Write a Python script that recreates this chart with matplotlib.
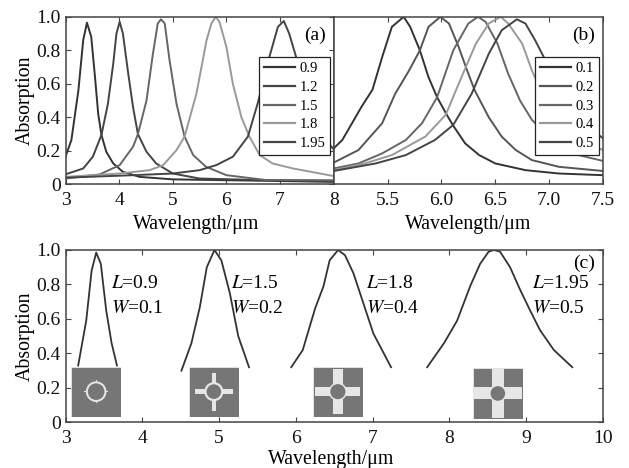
import matplotlib
matplotlib.use("Agg")
import matplotlib.pyplot as plt
from matplotlib.patches import Rectangle, Circle

plt.rcParams['font.family'] = ['Liberation Serif', 'DejaVu Serif']
plt.rcParams['mathtext.fontset'] = 'stix'

W, H = 629, 468
FS = 14
LS = 14.3

# ---------- panel (a)
a_labels = ["0.9", "1.2", "1.5", "1.8", "1.95"]
a_x = [
    [3.0, 3.11, 3.24, 3.33, 3.40, 3.48, 3.55, 3.61, 3.67, 3.76, 3.89, 4.07, 4.38, 5.0, 6.0, 8.0],
    [3.0, 3.33, 3.51, 3.67, 3.79, 3.89, 3.95, 4.01, 4.07, 4.17, 4.26, 4.35, 4.51, 4.69, 5.0, 5.5, 6.5, 8.0],
    [3.0, 3.64, 4.01, 4.26, 4.35, 4.51, 4.63, 4.72, 4.78, 4.85, 4.94, 5.07, 5.22, 5.38, 5.62, 6.0, 6.74, 8.0],
    [3.0, 4.01, 4.57, 4.82, 5.07, 5.22, 5.44, 5.63, 5.72, 5.80, 5.87, 6.0, 6.12, 6.28, 6.43, 6.62, 6.86, 7.24, 8.0],
    [3.0, 4.26, 5.0, 5.5, 5.81, 6.12, 6.4, 6.58, 6.8, 6.96, 7.07, 7.17, 7.29, 7.5, 7.75, 8.0],
]
a_y = [
    [0.165, 0.265, 0.56, 0.86, 0.965, 0.88, 0.64, 0.42, 0.295, 0.195, 0.125, 0.075, 0.045, 0.03, 0.025, 0.015],
    [0.06, 0.095, 0.165, 0.295, 0.48, 0.72, 0.90, 0.97, 0.90, 0.66, 0.46, 0.30, 0.195, 0.125, 0.065, 0.035, 0.027, 0.02],
    [0.035, 0.06, 0.115, 0.225, 0.30, 0.50, 0.78, 0.96, 0.985, 0.96, 0.74, 0.48, 0.285, 0.175, 0.105, 0.055, 0.026, 0.025],
    [0.045, 0.065, 0.085, 0.115, 0.205, 0.285, 0.54, 0.86, 0.96, 1.0, 0.97, 0.82, 0.60, 0.40, 0.285, 0.175, 0.125, 0.095, 0.05],
    [0.04, 0.055, 0.065, 0.085, 0.115, 0.165, 0.285, 0.48, 0.76, 0.94, 0.975, 0.90, 0.77, 0.50, 0.30, 0.21],
]
a_colors = ["#333333", "#444444", "#666666", "#999999", "#444444"]

# ---------- panel (b)
b_labels = ["0.1", "0.2", "0.3", "0.4", "0.5"]
b_x = [
    [5.0, 5.08, 5.17, 5.26, 5.36, 5.45, 5.54, 5.65, 5.71, 5.80, 5.88, 5.96, 6.05, 6.11, 6.22, 6.35, 6.5, 6.78, 7.09, 7.5],
    [5.0, 5.23, 5.45, 5.57, 5.70, 5.80, 5.88, 5.99, 6.07, 6.16, 6.25, 6.31, 6.44, 6.56, 6.69, 6.84, 7.09, 7.5],
    [5.0, 5.23, 5.45, 5.67, 5.82, 5.96, 6.11, 6.25, 6.34, 6.41, 6.52, 6.62, 6.73, 6.84, 7.03, 7.21, 7.5],
    [5.0, 5.29, 5.54, 5.85, 6.04, 6.16, 6.32, 6.44, 6.55, 6.62, 6.75, 6.84, 6.95, 7.09, 7.27, 7.5],
    [5.0, 5.39, 5.67, 5.94, 6.11, 6.28, 6.44, 6.56, 6.70, 6.78, 6.87, 6.95, 7.05, 7.2, 7.35, 7.5],
]
b_y = [
    [0.215, 0.265, 0.365, 0.465, 0.565, 0.76, 0.94, 1.0, 0.94, 0.80, 0.64, 0.52, 0.415, 0.35, 0.245, 0.175, 0.125, 0.085, 0.065, 0.055],
    [0.13, 0.205, 0.365, 0.54, 0.68, 0.80, 0.94, 1.0, 0.96, 0.82, 0.66, 0.56, 0.40, 0.285, 0.205, 0.145, 0.105, 0.08],
    [0.095, 0.125, 0.185, 0.265, 0.365, 0.52, 0.80, 0.96, 1.0, 0.97, 0.84, 0.66, 0.50, 0.385, 0.265, 0.185, 0.14],
    [0.085, 0.125, 0.175, 0.285, 0.415, 0.60, 0.84, 0.96, 1.0, 0.96, 0.84, 0.68, 0.52, 0.365, 0.265, 0.205],
    [0.08, 0.125, 0.175, 0.265, 0.355, 0.54, 0.78, 0.92, 0.985, 0.96, 0.86, 0.76, 0.62, 0.49, 0.35, 0.275],
]
b_colors = ["#333333", "#555555", "#666666", "#999999", "#444444"]

# ---------- panel (c)
c_x = [
    [3.165, 3.27, 3.34, 3.40, 3.46, 3.53, 3.60, 3.67],
    [4.51, 4.64, 4.75, 4.84, 4.94, 5.03, 5.14, 5.25, 5.39],
    [5.94, 6.09, 6.18, 6.25, 6.36, 6.44, 6.55, 6.64, 6.75, 6.88, 7.01, 7.24],
    [7.71, 7.93, 8.1, 8.27, 8.40, 8.51, 8.58, 8.66, 8.79, 8.92, 9.05, 9.18, 9.36, 9.6],
]
c_y = [
    [0.33, 0.59, 0.88, 0.985, 0.92, 0.65, 0.46, 0.33],
    [0.30, 0.46, 0.67, 0.90, 1.0, 0.94, 0.75, 0.50, 0.32],
    [0.32, 0.42, 0.555, 0.66, 0.79, 0.94, 1.0, 0.97, 0.865, 0.69, 0.515, 0.32],
    [0.32, 0.46, 0.59, 0.79, 0.92, 0.99, 1.0, 0.99, 0.90, 0.77, 0.65, 0.535, 0.42, 0.32],
]
c_notes = [("0.9", "0.1"), ("1.5", "0.2"), ("1.8", "0.4"), ("1.95", "0.5")]

y_ticks = [0, 0.2, 0.4, 0.6, 0.8, 1.0]
y_ticklabels = ["0", "0.2", "0.4", "0.6", "0.8", "1.0"]


def axes_px(l, t, r, b):
    return [l / W, 1 - b / H, (r - l) / W, (b - t) / H]


fig = plt.figure(figsize=(W / 100, H / 100), dpi=100, facecolor="white")
ax_a = fig.add_axes(axes_px(65.5, 16.8, 333.7, 184.4))
ax_b = fig.add_axes(axes_px(333.7, 16.8, 603, 184.4))
ax_c = fig.add_axes(axes_px(65.5, 250, 603, 422.4))


def style(ax, left=True, right=True):
    for s in ax.spines.values():
        s.set_linewidth(1.1)
        s.set_color("#444444")
    ax.tick_params(direction="in", length=3.5, width=0.8, color="#444444", top=True,
                   right=right, left=left, labelsize=FS, labelcolor="#111111")
    ax.tick_params(axis="x", pad=5.5)
    ax.tick_params(axis="y", pad=3.5)


for ax, xs, ys, cols, labs, lim in [
    (ax_a, a_x, a_y, a_colors, a_labels, (3, 8)),
    (ax_b, b_x, b_y, b_colors, b_labels, (5, 7.5)),
]:
    for x, y, c, l in zip(xs, ys, cols, labs):
        ax.plot(x, y, color=c, lw=1.4, label=l)
    ax.set_xlim(*lim)
    ax.set_ylim(0, 1)

style(ax_a)
style(ax_b, left=False, right=False)
ax_a.set_xticks([3, 4, 5, 6, 7, 8])
ax_a.set_yticks(y_ticks)
ax_a.set_yticklabels(y_ticklabels)
ax_b.set_xticks([5.5, 6, 6.5, 7, 7.5])
ax_b.set_xticklabels(["5.5", "6.0", "6.5", "7.0", "7.5"])
ax_b.set_yticks([])
ax_a.set_ylabel("Absorption", fontsize=LS)
ax_a.set_xlabel("Wavelength/μm", fontsize=LS)
ax_b.set_xlabel("Wavelength/μm", fontsize=LS)
ax_a.xaxis.set_label_coords(0.487, -0.185)
ax_b.xaxis.set_label_coords(0.50, -0.185)
ax_a.yaxis.set_label_coords(-0.115, 0.50)


def legend_box(ax, l, t, r, b):
    p = ax.get_position()
    x0 = (l / W - p.x0) / p.width
    x1 = (r / W - p.x0) / p.width
    y0 = ((1 - b / H) - p.y0) / p.height
    y1 = ((1 - t / H) - p.y0) / p.height
    leg = ax.legend(loc="upper left", bbox_to_anchor=(x0, y0, x1 - x0, y1 - y0),
                    bbox_transform=ax.transAxes, fontsize=10.5, fancybox=False,
                    framealpha=1, edgecolor="#222222", borderaxespad=0, borderpad=0.33,
                    handlelength=2.13, handletextpad=0.34, labelspacing=0.385)
    leg.get_frame().set_linewidth(0.9)
    for h in leg.get_lines():
        h.set_linewidth(1.6)


legend_box(ax_a, 258.7, 57, 329.5, 146.7)
legend_box(ax_b, 535, 57, 598, 146.7)

ax_a.text(0.93, 0.89, "(a)", transform=ax_a.transAxes, fontsize=FS, ha="center", va="center")
ax_b.text(0.926, 0.89, "(b)", transform=ax_b.transAxes, fontsize=FS, ha="center", va="center")

# panel (c)
for x, y in zip(c_x, c_y):
    ax_c.plot(x, y, color="#333333", lw=1.3)
ax_c.set_xlim(3, 10)
ax_c.set_ylim(0, 1)
style(ax_c)
ax_c.set_xticks(range(3, 11))
ax_c.set_yticks(y_ticks)
ax_c.set_yticklabels(y_ticklabels)
ax_c.set_ylabel("Absorption", fontsize=LS)
ax_c.yaxis.set_label_coords(-0.0575, 0.50)
ax_c.set_xlabel("Wavelength/μm", fontsize=LS)
ax_c.xaxis.set_label_coords(0.494, -0.16)
ax_c.text(0.965, 0.925, "(c)", transform=ax_c.transAxes, fontsize=FS, ha="center", va="center")

note_x = [3.59, 5.16, 6.92, 9.08]
for nx, (L, Wd) in zip(note_x, c_notes):
    ax_c.text(nx, 0.807, rf"$\mathit{{L}}$={L}", fontsize=14, va="center")
    ax_c.text(nx, 0.66, rf"$\mathit{{W}}$={Wd}", fontsize=14, va="center")

# unit-cell insets: left px, top px, half arm length, arm width, ring outer, ring inner (cell fractions)
insets = [
    (71.0, 366.5, 0.235, 0.025, 0.205, 0.165),
    (188.7, 366.5, 0.375, 0.09, 0.19, 0.145),
    (312.7, 366.5, 0.445, 0.19, 0.18, 0.15),
    (472.7, 368.3, 0.49, 0.24, 0.175, 0.145),
]
for l, t, arm, aw, ro, ri in insets:
    cell = fig.add_axes(axes_px(l, t, l + 50.3, t + 50.3))
    cell.set_xlim(-0.5, 0.5)
    cell.set_ylim(-0.5, 0.5)
    cell.axis("off")
    cell.add_patch(Rectangle((-0.5, -0.5), 1, 1, fc="#767676", ec="#e8e8e8", lw=0.6))
    cell.add_patch(Rectangle((-arm, -aw / 2), 2 * arm, aw, fc="#e6e6e6", ec="none"))
    cell.add_patch(Rectangle((-aw / 2, -arm), aw, 2 * arm, fc="#e6e6e6", ec="none"))
    cell.add_patch(Circle((0, 0), ro, fc="#e6e6e6", ec="none"))
    cell.add_patch(Circle((0, 0), ri, fc="#767676", ec="none"))

fig.savefig("out.png", dpi=100)
